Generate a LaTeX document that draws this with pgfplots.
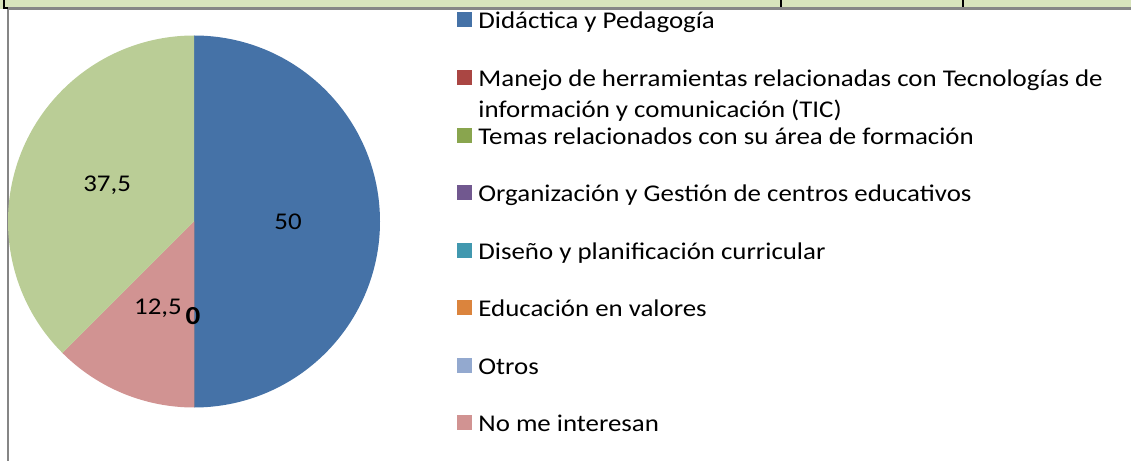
\documentclass[border=0pt]{standalone}
\usepackage{pgfplots}
\pgfplotsset{compat=1.18}
\usepackage{pgfplotstable}
\usepackage{fontspec}
\setmainfont{Carlito}[FakeStretch=1.12]
\definecolor{pblue}{HTML}{4572A7}
\definecolor{pred}{HTML}{AA4643}
\definecolor{pgreen}{HTML}{89A54E}
\definecolor{ppurple}{HTML}{71588F}
\definecolor{pteal}{HTML}{4198AF}
\definecolor{porange}{HTML}{DB843D}
\definecolor{plblue}{HTML}{93A9CF}
\definecolor{ppink}{HTML}{D19392}
\definecolor{plgreen}{HTML}{BACD96}
\definecolor{stripgreen}{HTML}{D8E4BC}
\definecolor{framegray}{HTML}{868686}

% slices in clockwise order from 12 o'clock
% label: 0 = none, 1 = normal, 2 = bold
\pgfplotstableread{
value color label
50   pblue   1
0    pred    2
0    ppurple 0
0    pteal   0
0    porange 0
0    plblue  0
12.5 ppink   1
37.5 plgreen 1
}\piedata

\newcommand{\lfont}{\fontsize{12}{14}\selectfont}
\newcommand{\zfont}{\fontsize{13}{15}\selectfont\bfseries}

\begin{document}
\begin{tikzpicture}
\xdef\cumangle{90}%
\pgfplotstablegetrowsof{\piedata}%
\pgfmathtruncatemacro\lastrow{\pgfplotsretval-1}%
\pgfplotsforeachungrouped \i in {0,...,\lastrow}{%
  \pgfplotstablegetelem{\i}{value}\of\piedata
  \let\val\pgfplotsretval
  \pgfmathsetmacro\en{\cumangle-3.6*\val}%
  \pgfmathsetmacro\md{(\cumangle+\en)/2}%
  \expandafter\xdef\csname pieS\i\endcsname{\cumangle}%
  \expandafter\xdef\csname pieE\i\endcsname{\en}%
  \expandafter\xdef\csname pieM\i\endcsname{\md}%
  \expandafter\xdef\csname pieV\i\endcsname{\val}%
  \pgfplotstablegetelem{\i}{color}\of\piedata
  \expandafter\xdef\csname pieC\i\endcsname{\pgfplotsretval}%
  \pgfplotstablegetelem{\i}{label}\of\piedata
  \expandafter\xdef\csname pieL\i\endcsname{\pgfplotsretval}%
  \xdef\cumangle{\en}%
}%
\begin{axis}[
  width=565.5pt, height=230.5pt, scale only axis,
  xmin=0, xmax=1131, ymin=0, ymax=461,
  hide axis, clip=false,
]
% frame remnants
\fill[stripgreen] (axis cs:0,452) rectangle (axis cs:1131,461);
\draw[black, line width=1pt] (axis cs:781,461) -- (axis cs:781,453);
\draw[black, line width=1pt] (axis cs:963,461) -- (axis cs:963,453);
\draw[framegray, line width=1.1pt] (axis cs:7.5,452.5) -- (axis cs:1131,452.5);
\draw[framegray, line width=1pt] (axis cs:7.5,452.5) -- (axis cs:7.5,0);
\draw[black, line width=1pt] (axis cs:3.5,461) -- (axis cs:3.5,452.5) -- (axis cs:8,452.5);

% pie slices
\pgfplotsinvokeforeach{0,...,7}{%
  \edef\tmp{\noexpand\fill[fill=\csname pieC#1\endcsname] (axis cs:194,239.5) -- ++(\csname pieS#1\endcsname:93pt) arc[start angle=\csname pieS#1\endcsname, end angle=\csname pieE#1\endcsname, radius=93pt] -- cycle;}%
  \tmp
}%
% slice labels
\pgfplotsinvokeforeach{0,...,7}{%
  \ifnum\csname pieL#1\endcsname=1
    \edef\tmp{\noexpand\path (axis cs:194,239.5) ++(\csname pieM#1\endcsname:47pt) node[font=\noexpand\lfont, inner sep=0pt] {\noexpand\pgfmathprintnumber[use comma, assume math mode=true]{\csname pieV#1\endcsname}};}%
    \tmp
  \fi
  \ifnum\csname pieL#1\endcsname=2
    \edef\tmp{\noexpand\path (axis cs:194,239.5) ++(\csname pieM#1\endcsname:47pt) node[font=\noexpand\zfont, inner sep=0pt, xshift=-0.5pt, yshift=-0.5pt] {\noexpand\pgfmathprintnumber[use comma, assume math mode=true]{\csname pieV#1\endcsname}};}%
    \tmp
  \fi
}%

% legend
\fill[pblue]   (axis cs:457,434)   rectangle (axis cs:472,449);
\fill[pred]    (axis cs:457,376)   rectangle (axis cs:472,391);
\fill[pgreen]  (axis cs:457,318)   rectangle (axis cs:472,333);
\fill[ppurple] (axis cs:457,260.5) rectangle (axis cs:472,275.5);
\fill[pteal]   (axis cs:457,203)   rectangle (axis cs:472,218);
\fill[porange] (axis cs:457,145.5) rectangle (axis cs:472,160.5);
\fill[plblue]  (axis cs:457,88)    rectangle (axis cs:472,103);
\fill[ppink]   (axis cs:457,30.5)  rectangle (axis cs:472,45.5);
\begin{scope}[every node/.style={anchor=base west, inner sep=0pt, font=\lfont}]
\node at (axis cs:478,432.5) {Didáctica y Pedagogía};
\node at (axis cs:478,374.5) {Manejo de herramientas relacionadas con Tecnologías de};
\node at (axis cs:478,343)   {información y comunicación (TIC)};
\node at (axis cs:478,316.5) {Temas relacionados con su área de formación};
\node at (axis cs:478,259)   {Organización y Gestión de centros educativos};
\node at (axis cs:478,201.5) {Diseño y planificación curricular};
\node at (axis cs:478,144)   {Educación en valores};
\node at (axis cs:478,86.5)  {Otros};
\node at (axis cs:478,29)    {No me interesan};
\end{scope}
\end{axis}
\pgfresetboundingbox
\useasboundingbox (current axis.south west) rectangle (current axis.north east);
\end{tikzpicture}
\end{document}
